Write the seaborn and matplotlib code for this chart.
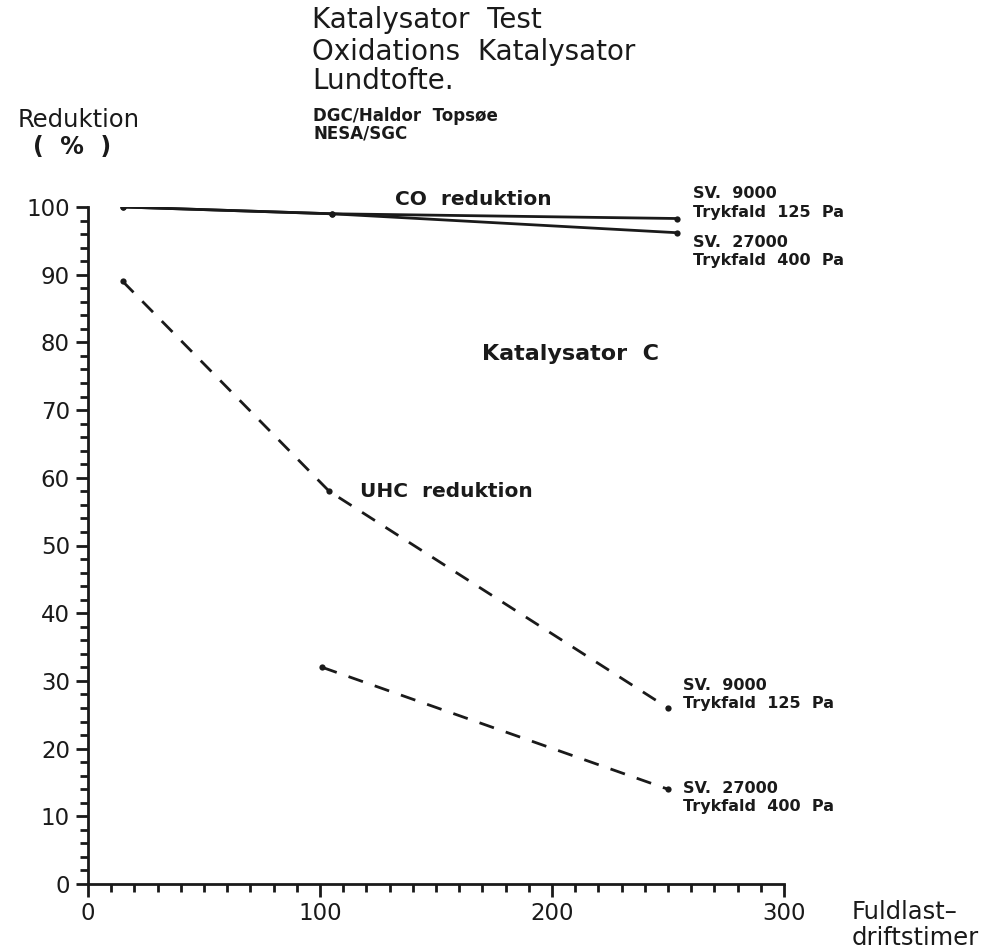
import matplotlib
matplotlib.use("Agg")
import matplotlib.pyplot as plt
import seaborn as sns
import pandas as pd
from matplotlib.ticker import MultipleLocator

# ---- data ----
hours_co = [15, 105, 254]
co_sv9000 = [100, 99, 98.3]
co_sv27000 = [100, 99, 96.2]

hours_uhc1 = [15, 104, 250]
uhc_sv9000 = [89, 58, 26]
hours_uhc2 = [101, 250]
uhc_sv27000 = [32, 14]

x_ticks = [0, 100, 200, 300]
y_ticks = [0, 10, 20, 30, 40, 50, 60, 70, 80, 90, 100]

sns.set_style("ticks")
plt.rcParams['font.family'] = ['DejaVu Sans']

W, H = 988, 952
fig = plt.figure(figsize=(W / 100, H / 100), dpi=100)
x0, x1 = 88, 784
y0, y1 = 884, 207
ax = fig.add_axes([x0 / W, 1 - y0 / H, (x1 - x0) / W, (y0 - y1) / H])

df_co1 = pd.DataFrame({"h": hours_co, "r": co_sv9000})
df_co2 = pd.DataFrame({"h": hours_co, "r": co_sv27000})
df_u1 = pd.DataFrame({"h": hours_uhc1, "r": uhc_sv9000})
df_u2 = pd.DataFrame({"h": hours_uhc2, "r": uhc_sv27000})

ink = "#1a1a1a"
kw = dict(x="h", y="r", ax=ax, color=ink, marker="o", markersize=4.5,
          markeredgewidth=0, linewidth=2, legend=False)
sns.lineplot(data=df_co1, **kw)
sns.lineplot(data=df_co2, **kw)
sns.lineplot(data=df_u1, **kw)
sns.lineplot(data=df_u2, **kw)
for ln in ax.lines[2:]:
    ln.set_dashes((5.5, 4.5))

ax.set_xlim(0, 300)
ax.set_ylim(0, 100)
ax.set_xticks(x_ticks)
ax.set_yticks(y_ticks)
ax.xaxis.set_minor_locator(MultipleLocator(10))
ax.yaxis.set_minor_locator(MultipleLocator(2))
ax.tick_params(which="major", length=9, width=2, color=ink,
               labelsize=16.5, labelcolor=ink, direction="out")
ax.tick_params(which="minor", length=5.5, width=2, color=ink, direction="out")
ax.tick_params(axis="y", pad=4)
ax.tick_params(axis="x", pad=4)
for s in ["top", "right"]:
    ax.spines[s].set_visible(False)
for s in ["left", "bottom"]:
    ax.spines[s].set_linewidth(2)
    ax.spines[s].set_color(ink)
ax.set_xlabel("")
ax.set_ylabel("")


def t(px, py, s, size, bold=False, **k):
    fig.text(px / W, 1 - py / H, s, fontsize=size, color=ink,
             fontweight="bold" if bold else "normal", ha="left", va="baseline", **k)


t(312, 28, "Katalysator  Test", 20)
t(312, 60, "Oxidations  Katalysator", 20)
t(312, 89, "Lundtofte.", 20)
t(313, 121, "DGC/Haldor  Topsøe", 12, True)
t(313, 138, "NESA/SGC", 12, True)
t(18, 127, "Reduktion", 17.5)
t(33, 154, "(  %  )", 17, True)

t(395, 205, "CO  reduktion", 14.5, True)
t(693, 198, "SV.  9000", 11.5, True)
t(693, 217, "Trykfald  125  Pa", 11.5, True)
t(693, 247, "SV.  27000", 11.5, True)
t(693, 265, "Trykfald  400  Pa", 11.5, True)

t(482, 360, "Katalysator  C", 16, True)
t(360, 497, "UHC  reduktion", 14.5, True)

t(683, 690, "SV.  9000", 11.5, True)
t(683, 708, "Trykfald  125  Pa", 11.5, True)
t(683, 793, "SV.  27000", 11.5, True)
t(683, 811, "Trykfald  400  Pa", 11.5, True)

t(852, 919, "Fuldlast–", 17.5)
t(852, 945, "driftstimer", 17.5)

fig.savefig("out.png", dpi=100, facecolor="white")
